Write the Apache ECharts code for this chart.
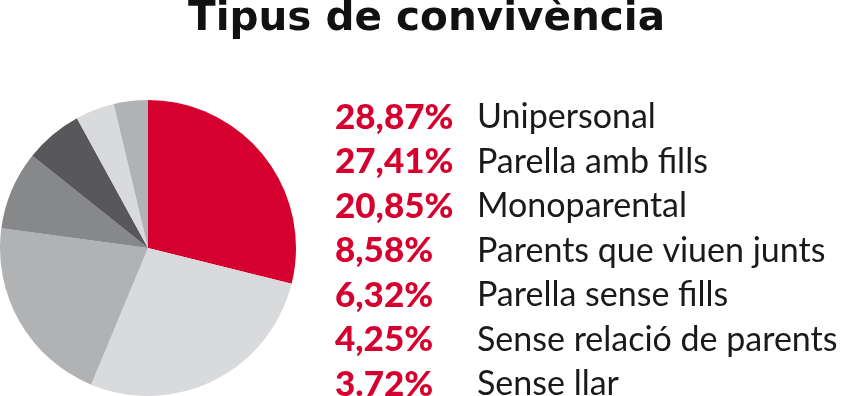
<!DOCTYPE html>
<html><head><meta charset="utf-8">
<script src="https://cdn.jsdelivr.net/npm/echarts@6/dist/echarts.min.js"></script>
<style>html,body{margin:0;padding:0;background:#fff}#c{width:858px;height:396px}</style>
</head><body><div id="c"></div>
<script>
const categories = ['Unipersonal','Parella amb fills','Monoparental','Parents que viuen junts','Parella sense fills','Sense relació de parents','Sense llar'];
const values = [28.87, 27.41, 20.85, 8.58, 6.32, 4.25, 3.72];
const pctLabels = ['28,87%','27,41%','20,85%','8,58%','6,32%','4,25%','3.72%'];
const colors = ['#D6002E','#D9DADC','#B1B2B4','#87888A','#58585A','#D9DADC','#B1B2B4'];
const titleText = 'Tipus de convivència';

const chart = echarts.init(document.getElementById('c'), null, {renderer:'canvas'});
const data = categories.map((n,i)=>({name:n, value:values[i], itemStyle:{color:colors[i]}}));
const labelMap = {}; categories.forEach((n,i)=>labelMap[n]=pctLabels[i]);
chart.setOption({
  animation:false,
  title:{text:titleText, left:183, top:-6, textStyle:{fontFamily:'DejaVu Sans', fontWeight:'bold', fontSize:40.5, color:'#111'}},
  legend:{
    type:'plain', orient:'vertical', left:325, top:95, height:500, itemWidth:0, itemHeight:0, itemGap:9.5, icon:'rect',
    selectedMode:false,
    data:categories,
    formatter:n=>'{p|'+labelMap[n]+'}{n|'+n+'}',
    textStyle:{rich:{
      p:{fontFamily:'Lato', fontWeight:900, fontSize:35, color:'#D6002E', width:142, lineHeight:36},
      n:{fontFamily:'Lato', fontSize:34, color:'#1a1a1a', lineHeight:36}
    }}
  },
  series:[{type:'pie', radius:148, center:[148,248], startAngle:90, clockwise:true,
    label:{show:false}, labelLine:{show:false}, emphasis:{disabled:true},
    itemStyle:{borderWidth:0}, data:data}]
});
</script></body></html>
